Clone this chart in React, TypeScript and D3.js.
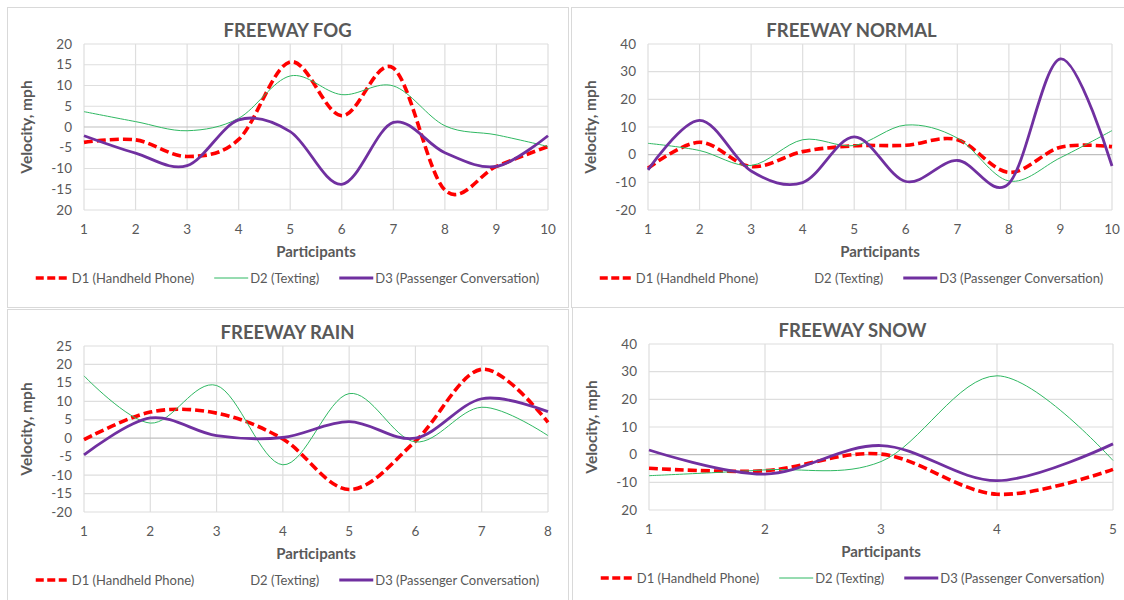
import * as d3 from "d3";
import { useEffect, useRef } from "react";

// participants on the x axis
const fogParticipants = [1, 2, 3, 4, 5, 6, 7, 8, 9, 10];
const normalParticipants = [1, 2, 3, 4, 5, 6, 7, 8, 9, 10];
const rainParticipants = [1, 2, 3, 4, 5, 6, 7, 8];
const snowParticipants = [1, 2, 3, 4, 5];

// FREEWAY FOG
const fogD1 = [-3.7, -3.1, -7.1, -3.0, 15.7, 2.7, 14.2, -15.2, -9.5, -4.7];
const fogD2 = [3.7, 1.3, -0.9, 2.1, 12.3, 7.8, 9.9, 0.3, -1.9, -4.7];
const fogD3 = [-2.1, -6.3, -9.3, 1.7, -1.1, -13.8, 1.1, -6.2, -9.5, -2.1];
const fogTickValues = [-20, -15, -10, -5, 0, 5, 10, 15, 20];
const fogTickLabels = ["20", "-15", "-10", "-5", "0", "5", "10", "15", "20"];

// FREEWAY NORMAL
const normalD1 = [-4.9, 4.5, -4.3, 1.1, 3.2, 3.4, 5.4, -6.4, 2.7, 2.9];
const normalD2 = [4.1, 1.5, -3.9, 5.4, 3.3, 10.7, 6.0, -9.5, -1.1, 8.7];
const normalD3 = [-5.5, 12.4, -5.9, -10.1, 6.4, -9.7, -2.1, -10.4, 34.6, -4.1];
const normalTickValues = [-20, -10, 0, 10, 20, 30, 40];
const normalTickLabels = ["-20", "-10", "0", "10", "20", "30", "40"];

// FREEWAY RAIN
const rainD1 = [-0.4, 7.1, 6.8, -0.2, -13.9, -0.8, 18.7, 4.3];
const rainD2 = [16.9, 4.1, 14.3, -7.2, 12.1, -1.0, 8.4, 0.7];
const rainD3 = [-4.5, 5.5, 0.7, 0.2, 4.5, 0.0, 10.7, 7.2];
const rainTickValues = [-20, -15, -10, -5, 0, 5, 10, 15, 20, 25];
const rainTickLabels = ["-20", "-15", "-10", "-5", "0", "5", "10", "15", "20", "25"];

// FREEWAY SNOW
const snowD1 = [-4.9, -5.8, 0.2, -14.3, -5.3];
const snowD2 = [-7.6, -5.5, -2.5, 28.5, -2.1];
const snowD3 = [1.7, -7.0, 3.3, -9.4, 3.9];
const snowTickValues = [-20, -10, 0, 10, 20, 30, 40];
const snowTickLabels = ["20", "-10", "0", "10", "20", "30", "40"];

const seriesNames = ["D1 (Handheld Phone)", "D2 (Texting)", "D3 (Passenger Conversation)"];

const panels = [
    { title: "FREEWAY FOG", px: 7, py: 7, xs: fogParticipants, series: [fogD1, fogD2, fogD3], ticks: fogTickValues, labels: fogTickLabels, greenKey: true },
    { title: "FREEWAY NORMAL", px: 571, py: 7, xs: normalParticipants, series: [normalD1, normalD2, normalD3], ticks: normalTickValues, labels: normalTickLabels, greenKey: false },
    { title: "FREEWAY RAIN", px: 7, py: 309, xs: rainParticipants, series: [rainD1, rainD2, rainD3], ticks: rainTickValues, labels: rainTickLabels, greenKey: false },
    { title: "FREEWAY SNOW", px: 572, py: 307, xs: snowParticipants, series: [snowD1, snowD2, snowD3], ticks: snowTickValues, labels: snowTickLabels, greenKey: true },
];

const styles = [
    { color: "#ff0000", width: 3.6, dash: "9,4" },
    { color: "#2fb862", width: 1, dash: null },
    { color: "#7030a0", width: 2.8, dash: null },
];

const TEXT = "#595959";
const GRID = "#dedede";
const FONT = "Lato, 'Open Sans', sans-serif";

function App() {
    const svgRef = useRef(null);

    useEffect(() => {
        const svg: any = d3.select(svgRef.current);
        svg.selectAll("*").remove();
        svg.style("font-family", FONT);

        panels.forEach((p) => {
            const g = svg.append("g");
            const W = 561;
            const H = 300;

            g.append("rect")
                .attr("x", p.px + 0.5)
                .attr("y", p.py + 0.5)
                .attr("width", W)
                .attr("height", H)
                .attr("fill", "#fff")
                .attr("stroke", "#d9d9d9");

            const x = d3.scaleLinear()
                .domain([p.xs[0], p.xs[p.xs.length - 1]])
                .range([p.px + 77, p.px + 541]);
            const y = d3.scaleLinear()
                .domain([p.ticks[0], p.ticks[p.ticks.length - 1]])
                .range([p.py + 203, p.py + 37]);

            // gridlines
            g.selectAll(".vgrid")
                .data(p.xs)
                .enter()
                .append("line")
                .attr("x1", (d: number) => x(d))
                .attr("x2", (d: number) => x(d))
                .attr("y1", y.range()[0])
                .attr("y2", y.range()[1])
                .attr("stroke", GRID)
                .attr("stroke-width", 1.2);
            g.selectAll(".hgrid")
                .data(p.ticks)
                .enter()
                .append("line")
                .attr("x1", x.range()[0])
                .attr("x2", x.range()[1])
                .attr("y1", (d: number) => y(d))
                .attr("y2", (d: number) => y(d))
                .attr("stroke", (d: number) => (d === 0 ? "#bfbfbf" : GRID))
                .attr("stroke-width", 1.2);

            // tick labels
            g.selectAll(".ylab")
                .data(p.ticks)
                .enter()
                .append("text")
                .attr("x", x.range()[0] - 12)
                .attr("y", (d: number) => y(d) + 4.5)
                .attr("text-anchor", "end")
                .attr("font-size", 13.5)
                .attr("fill", TEXT)
                .text((d: number, i: number) => p.labels[i]);
            g.selectAll(".xlab")
                .data(p.xs)
                .enter()
                .append("text")
                .attr("x", (d: number) => x(d))
                .attr("y", y.range()[0] + 24)
                .attr("text-anchor", "middle")
                .attr("font-size", 13.5)
                .attr("fill", TEXT)
                .text((d: number) => d);

            // titles
            g.append("text")
                .attr("x", p.px + W / 2)
                .attr("y", p.py + 30)
                .attr("text-anchor", "middle")
                .attr("font-size", 18.5)
                .attr("font-weight", "bold")
                .attr("fill", TEXT)
                .text(p.title);
            g.append("text")
                .attr("x", (x.range()[0] + x.range()[1]) / 2)
                .attr("y", y.range()[0] + 47)
                .attr("text-anchor", "middle")
                .attr("font-size", 15)
                .attr("font-weight", "bold")
                .attr("fill", TEXT)
                .text("Participants");
            g.append("text")
                .attr("transform", `translate(${p.px + 25},${(y.range()[0] + y.range()[1]) / 2}) rotate(-90)`)
                .attr("text-anchor", "middle")
                .attr("font-size", 15.5)
                .attr("font-weight", "bold")
                .attr("fill", TEXT)
                .text("Velocity, mph");

            // series
            p.series.forEach((vals: number[], si: number) => {
                const line = d3.line<number>()
                    .x((d, i) => x(p.xs[i]))
                    .y((d) => y(d))
                    .curve(d3.curveCardinal.tension(0));
                const st = styles[si];
                g.append("path")
                    .attr("d", line(vals))
                    .attr("fill", "none")
                    .attr("stroke", st.color)
                    .attr("stroke-width", st.width)
                    .attr("stroke-dasharray", st.dash)
                    .attr("stroke-linejoin", "round");
            });

            // legend
            const lg = g.append("g");
            let cx = 0;
            seriesNames.forEach((name, si) => {
                const st = styles[si];
                if (si !== 1 || p.greenKey) {
                    lg.append("line")
                        .attr("x1", cx)
                        .attr("x2", cx + 34)
                        .attr("y1", 0)
                        .attr("y2", 0)
                        .attr("stroke", st.color)
                        .attr("stroke-width", st.width)
                        .attr("stroke-dasharray", si === 0 ? "8,3.5" : st.dash);
                }
                const t = lg.append("text")
                    .attr("x", cx + 36)
                    .attr("y", 4.5)
                    .attr("font-size", 13)
                    .attr("fill", TEXT)
                    .text(name);
                const w = t.node().getComputedTextLength();
                cx += 36 + w + 20;
            });
            const total = cx - 20;
            lg.attr("transform", `translate(${p.px + W / 2 - total / 2},${p.py + 271})`);
        });
    }, []);

    return (
        <div style={{ position: "absolute", left: 0, top: 0, width: 1124, height: 600, background: "#fff" }}>
            <svg ref={svgRef} width={1124} height={600} style={{ display: "block" }} />
        </div>
    );
}

export default App;
